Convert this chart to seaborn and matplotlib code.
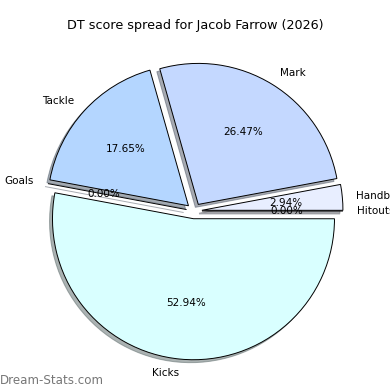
import matplotlib
matplotlib.use("Agg")
import matplotlib.pyplot as plt
import seaborn as sns

sns.set_style("white")
plt.rcParams['font.family'] = ['DejaVu Sans']
plt.rcParams['text.color'] = 'black'

labels = ["Kicks", "Hitouts", "Handball", "Mark", "Tackle", "Goals"]
values = [52.94, 0.0, 2.94, 26.47, 17.65, 0.0]
colors = ["#d9ffff", "#e0e8ff", "#e8eeff", "#c4d8ff", "#b4d6ff", "#cce0ff"]
explode = [0.055, 0.055, 0.055, 0.055, 0.055, 0.055]
title = "DT score spread for Jacob Farrow (2026)"
watermark = "Dream-Stats.com"

fig = plt.figure(figsize=(3.9, 3.9), dpi=100)
ax = fig.add_axes([0, 0, 1, 1])
ax.pie(values, labels=labels, colors=colors, explode=explode,
       autopct="%1.2f%%", startangle=169.4,
       shadow=dict(ox=-0.015, oy=-0.015, shade=0.6),
       wedgeprops=dict(edgecolor="black", linewidth=0.7),
       textprops=dict(fontsize=7.5, color="black"))
ax.set_aspect("equal")
ax.set_xlim(-194.2 / 141, (390 - 194.2) / 141)
ax.set_ylim(-(390 - 211.0) / 141, 211.0 / 141)
ax.axis("off")
fig.text(0.5, 1 - 25 / 390, title, ha="center", va="center", fontsize=9.2,
         color="black")
fig.text(0.0, 1 - 380 / 390, watermark, ha="left", va="center",
         fontsize=8.6, color="#777777")
fig.savefig("out.png", dpi=100)
